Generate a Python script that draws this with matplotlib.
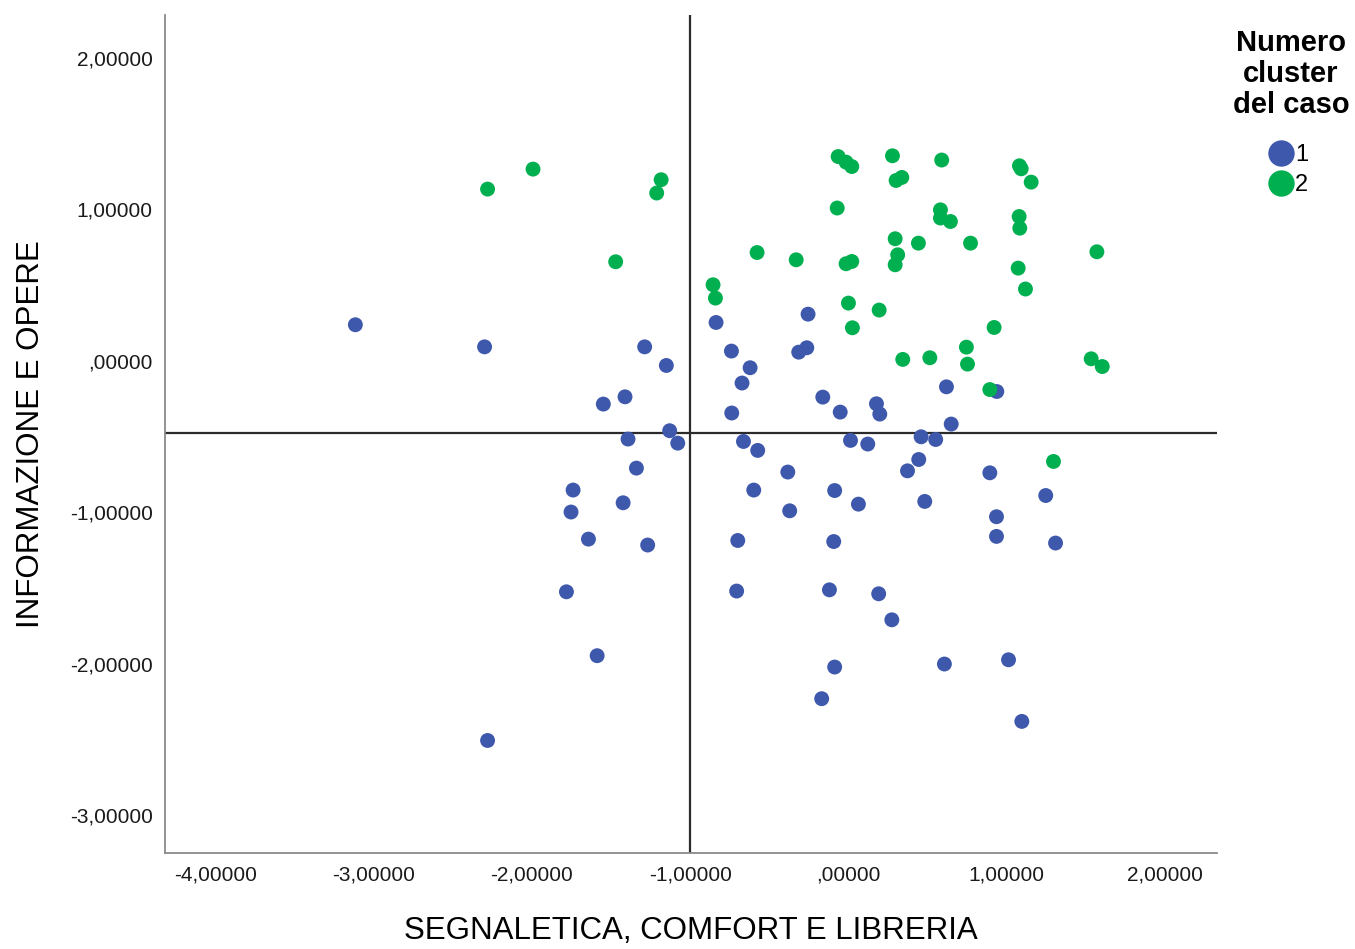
import matplotlib
matplotlib.use("Agg")
import matplotlib.pyplot as plt
from matplotlib.ticker import FuncFormatter
from matplotlib.lines import Line2D

plt.rcParams['font.family'] = ['Liberation Sans', 'DejaVu Sans']

# punteggi fattoriali per cluster 1
c1_x = [-3.114, -2.298, -2.279, -1.781, -1.752, -1.739, -1.642, -1.587, -1.548, -1.423,
        -1.411, -1.392, -1.339, -1.287, -1.268, -1.150, -1.129, -1.078, -0.836, -0.739,
        -0.737, -0.706, -0.699, -0.672, -0.663, -0.621, -0.598, -0.573, -0.383, -0.371,
        -0.314, -0.263, -0.255, -0.169, -0.162, -0.120, -0.093, -0.087, -0.087, -0.052,
        0.013, 0.063, 0.122, 0.177, 0.191, 0.198, 0.274, 0.373, 0.444, 0.459,
        0.482, 0.551, 0.606, 0.619, 0.649, 0.893, 0.935, 0.935, 0.937, 1.011,
        1.095, 1.246, 1.308]
c1_y = [0.238, 0.092, -2.508, -1.526, -0.999, -0.854, -1.178, -1.948, -0.286, -0.938,
        -0.238, -0.517, -0.709, 0.092, -1.217, -0.031, -0.462, -0.544, 0.253, 0.064,
        -0.345, -1.521, -1.187, -0.147, -0.533, -0.046, -0.854, -0.592, -0.735, -0.991,
        0.057, 0.086, 0.308, -2.232, -0.240, -1.513, -1.194, -0.857, -2.023, -0.339,
        -0.526, -0.947, -0.550, -0.284, -1.539, -0.352, -1.711, -0.727, -0.652, -0.502,
        -0.929, -0.520, -2.003, -0.172, -0.418, -0.740, -1.030, -1.160, -0.203, -1.975,
        -2.382, -0.890, -1.204]

# punteggi fattoriali per cluster 2
c2_x = [-2.279, -1.992, -1.470, -1.211, -1.183, -0.855, -0.840, -0.577, -0.330, -0.071,
        -0.065, -0.015, 0.021, -0.015, 0.021, 0.000, 0.025, 0.194, 0.278, 0.295,
        0.295, 0.311, 0.301, 0.337, 0.343, 0.442, 0.514, 0.581, 0.581, 0.589,
        0.644, 0.745, 0.752, 0.771, 0.893, 0.920, 1.072, 1.078, 1.082, 1.080,
        1.091, 1.118, 1.154, 1.295, 1.533, 1.569, 1.603]
c2_y = [1.134, 1.266, 0.654, 1.108, 1.196, 0.502, 0.414, 0.715, 0.667, 1.009,
        1.349, 1.312, 1.283, 0.641, 0.656, 0.381, 0.218, 0.335, 1.354, 0.806,
        0.634, 0.700, 1.191, 1.211, 0.009, 0.777, 0.020, 0.997, 0.943, 1.326,
        0.920, 0.090, -0.022, 0.777, -0.190, 0.220, 0.612, 0.953, 0.876, 1.288,
        1.268, 0.474, 1.180, -0.665, 0.013, 0.720, -0.038]

x_ticks = [-4, -3, -2, -1, 0, 1, 2]
y_ticks = [-3, -2, -1, 0, 1, 2]
ref_x = -1.0
ref_y = -0.48

blue = '#3e58ac'
green = '#00b050'


def fmt(v, pos):
    s = f"{v:.5f}".replace('.', ',')
    if s.startswith('0,'):
        s = s[1:]
    if s.startswith('-0,'):
        s = '-' + s[2:]
    return s


fig = plt.figure(figsize=(13.55, 9.49), dpi=100)
ax = fig.add_axes([0.1218, 0.1012, 0.7764, 0.883])

ax.scatter(c1_x, c1_y, s=115, color=blue, edgecolors='none', zorder=3)
ax.scatter(c2_x, c2_y, s=115, color=green, edgecolors='none', zorder=3)

ax.axvline(ref_x, color='#2b2b2b', lw=1.6, zorder=2)
ax.axhline(ref_y, color='#2b2b2b', lw=1.6, zorder=2)

ax.set_xlim(-4.316, 2.328)
ax.set_ylim(-3.251, 2.284)
ax.set_xticks(x_ticks)
ax.set_yticks(y_ticks)
ax.xaxis.set_major_formatter(FuncFormatter(fmt))
ax.yaxis.set_major_formatter(FuncFormatter(fmt))
ax.tick_params(length=0, labelsize=15, colors='#1a1a1a', pad=9)

for side in ['top', 'right']:
    ax.spines[side].set_visible(False)
for side in ['left', 'bottom']:
    ax.spines[side].set_color('#8a8a8a')
    ax.spines[side].set_linewidth(1.3)

ax.set_xlabel('SEGNALETICA, COMFORT E LIBRERIA', fontsize=22.5, labelpad=23, color='black')
ax.set_ylabel('INFORMAZIONE E OPERE', fontsize=22.5, labelpad=17, color='black')

# legenda: titolo e voci separati per controllare le spaziature
fig.text(1291 / 1355, 1 - 74 / 949, 'Numero\ncluster\ndel caso', ha='center', va='center',
         fontsize=21, fontweight='bold', linespacing=1.13, multialignment='center')

handles = [Line2D([], [], marker='o', ls='none', markersize=19, color=blue, markeredgewidth=0),
           Line2D([], [], marker='o', ls='none', markersize=19, color=green, markeredgewidth=0)]
fig.legend(handles, ['1', '2'], loc='upper left',
           bbox_to_anchor=(1255 / 1355, 1 - 132 / 949),
           frameon=False, fontsize=17, handletextpad=0.0, labelspacing=0.35,
           handlelength=1.2, borderpad=0)

fig.savefig('out.png', dpi=100)
